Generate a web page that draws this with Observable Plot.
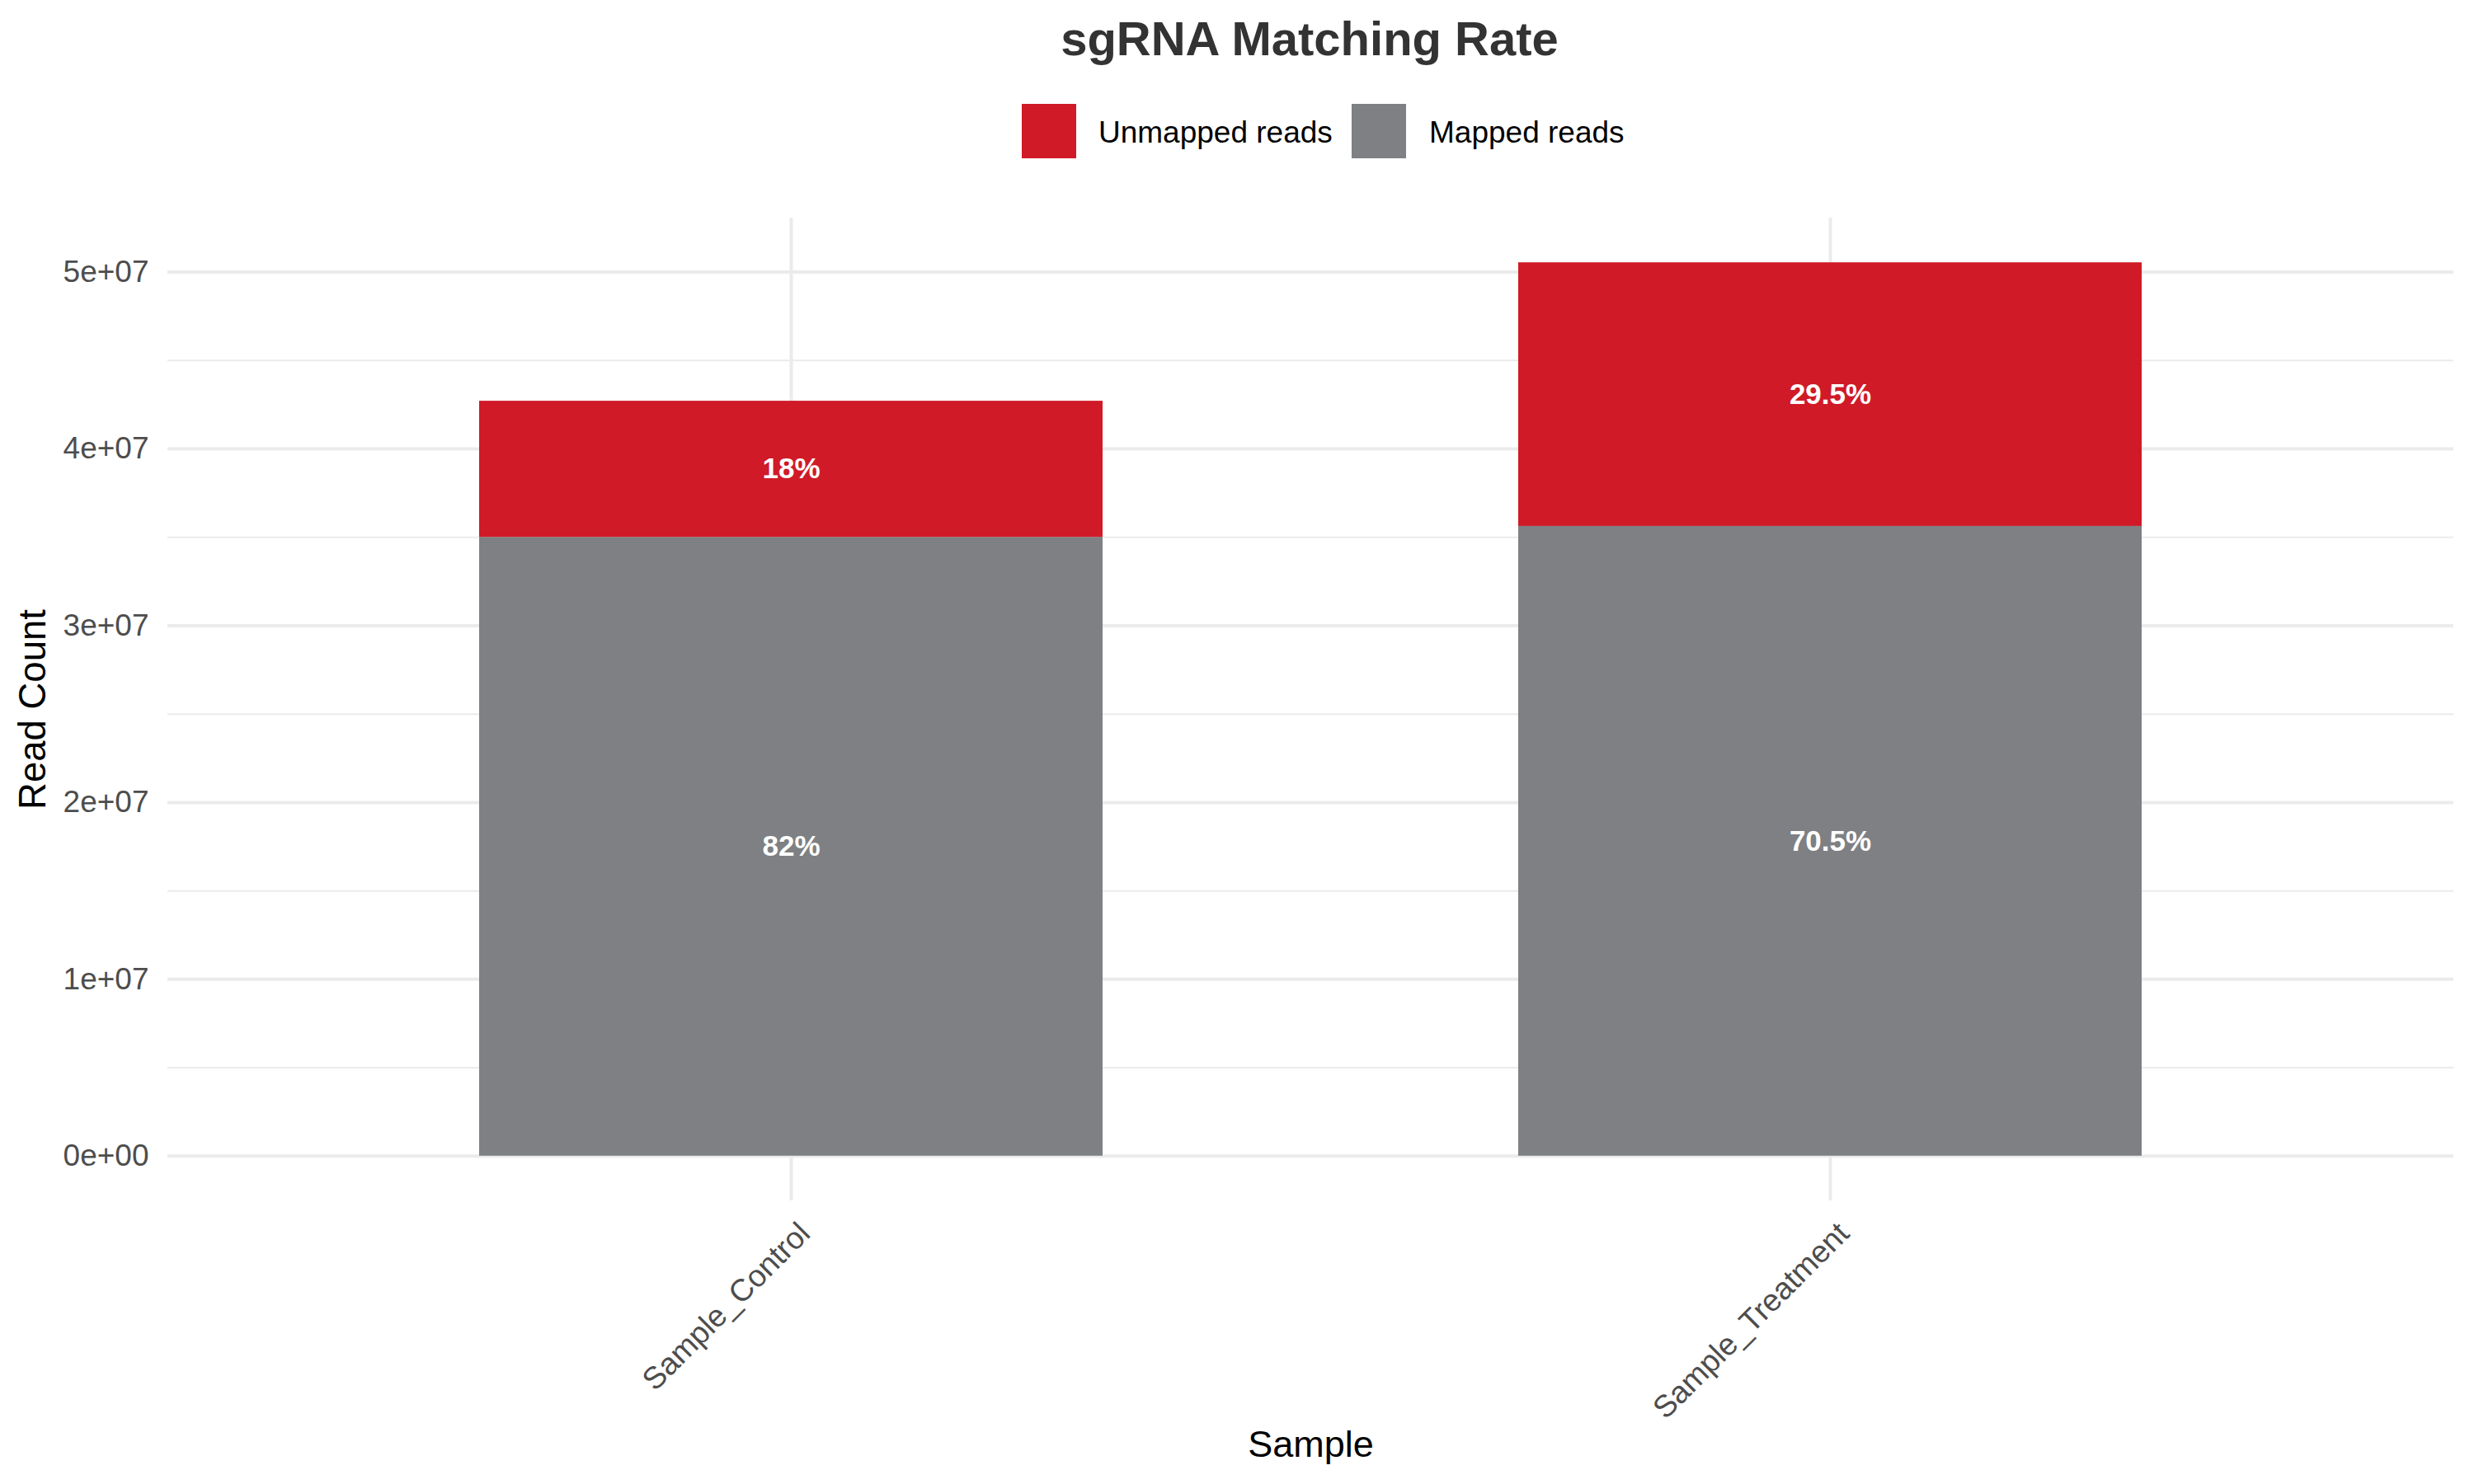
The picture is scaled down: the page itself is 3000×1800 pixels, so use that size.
<!DOCTYPE html>
<html>
<head>
<meta charset="utf-8">
<script src="https://cdn.jsdelivr.net/npm/d3@7"></script>
<script src="https://cdn.jsdelivr.net/npm/@observablehq/plot@0.6"></script>
<style>
  html, body { margin: 0; padding: 0; background: #fff; overflow: hidden; }
  #page { position: relative; width: 3000px; height: 1800px; font-family: "Liberation Sans", Arial, sans-serif; }
  #header { position: relative; width: 3000px; height: 220px; }
  .title { position: absolute; left: 88px; width: 3000px; top: 18px; text-align: center; font-size: 58px; line-height: 58px; font-weight: bold; color: #333333; white-space: nowrap; }
  .sw { position: absolute; top: 126px; width: 66px; height: 66px; }
  .lt { position: absolute; top: 142px; font-size: 37px; line-height: 37px; color: #000; white-space: nowrap; }
  #chart svg { display: block; }
</style>
</head>
<body>
<div id="page">
  <div id="header"></div>
  <div id="chart"></div>
</div>
<script>
// ---- data ----
const samples = ["Sample_Control", "Sample_Treatment"];
const mappedReads = [35.0e6, 35.62e6];
const unmappedReads = [7.7e6, 14.91e6];
const mappedPct = ["82%", "70.5%"];
const unmappedPct = ["18%", "29.5%"];
const seriesNames = ["Unmapped reads", "Mapped reads"];
const seriesColors = ["#D01A27", "#7E8083"];
const yTicks = [0, 1e7, 2e7, 3e7, 4e7, 5e7];
const yMinorTicks = [0.5e7, 1.5e7, 2.5e7, 3.5e7, 4.5e7];
const titleText = "sgRNA Matching Rate";
const xTitle = "Sample";
const yTitle = "Read Count";

// table for the library (stack order: mapped at bottom)
const rows = [];
samples.forEach((s, i) => {
  rows.push({sample: s, type: "Mapped reads", count: mappedReads[i], label: mappedPct[i]});
  rows.push({sample: s, type: "Unmapped reads", count: unmappedReads[i], label: unmappedPct[i]});
});
const totals = samples.map((s, i) => mappedReads[i] + unmappedReads[i]);
const yMax = d3.max(totals);

// ---- header: title + legend ----
const header = document.getElementById("header");
const t = document.createElement("div");
t.className = "title";
t.textContent = titleText;
header.appendChild(t);
const legendPos = [{sw: 1239, tx: 1332}, {sw: 1639, tx: 1733}];
seriesNames.forEach((n, i) => {
  const sw = document.createElement("div");
  sw.className = "sw";
  sw.style.left = legendPos[i].sw + "px";
  sw.style.background = seriesColors[i];
  header.appendChild(sw);
  const lt = document.createElement("div");
  lt.className = "lt";
  lt.style.left = legendPos[i].tx + "px";
  lt.textContent = n;
  header.appendChild(lt);
});

// ---- R-style scientific format ----
function sci(d) {
  const s = d3.format(".0e")(d);
  const [m, e] = s.split("e");
  return m + "e" + e[0] + e.slice(1).padStart(2, "0");
}

const chart = Plot.plot({
  width: 3000,
  height: 1580,
  marginTop: 44,
  marginBottom: 344,
  marginLeft: 203,
  marginRight: 25,
  style: {fontFamily: "'Liberation Sans', Arial, sans-serif", fontSize: "37px", background: "#fff"},
  x: {type: "band", domain: samples, paddingInner: 0.4, paddingOuter: 0.3, align: 0.5},
  y: {domain: [-0.05 * yMax, 1.05 * yMax]},
  color: {domain: seriesNames, range: seriesColors},
  marks: [
    Plot.gridY(yMinorTicks, {stroke: "#EBEBEB", strokeOpacity: 1, strokeWidth: 2}),
    Plot.gridY(yTicks, {stroke: "#EBEBEB", strokeOpacity: 1, strokeWidth: 4}),
    Plot.gridX(samples, {stroke: "#EBEBEB", strokeOpacity: 1, strokeWidth: 4}),
    Plot.barY(rows, {x: "sample", y: "count", fill: "type"}),
    Plot.text(rows, Plot.stackY({x: "sample", y: "count", text: "label", fill: "white", fontWeight: "bold", fontSize: 35})),
    Plot.axisY(yTicks, {tickSize: 0, tickPadding: 23, tickFormat: sci, fill: "#4D4D4D", fontSize: 37, label: null}),
    Plot.axisX(samples, {tickSize: 0, tickRotate: -45, tickPadding: 23, dx: 6, textAnchor: "end", lineAnchor: "top", fill: "#4D4D4D", fontSize: 37.5, label: null}),
    Plot.text([xTitle], {frameAnchor: "bottom", dy: 296, lineAnchor: "middle", textAnchor: "middle", text: d => d, fill: "black", fontSize: 45}),
    Plot.text([yTitle], {frameAnchor: "left", dx: -163, rotate: -90, lineAnchor: "middle", textAnchor: "middle", text: d => d, fill: "black", fontSize: 45.5})
  ]
});
document.getElementById("chart").appendChild(chart);
</script>
</body>
</html>
